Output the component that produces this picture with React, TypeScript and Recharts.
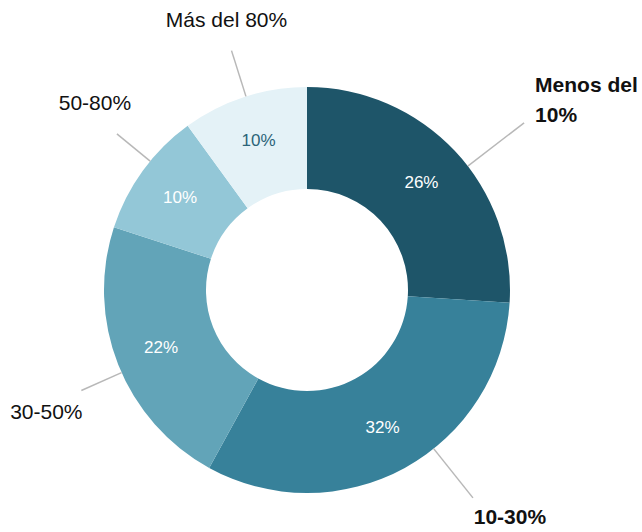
import React from "react";
import { PieChart, Pie, Cell } from "recharts";

// share of respondents per bracket, clockwise from 12 o'clock
const categories = ["Menos del 10%", "10-30%", "30-50%", "50-80%", "Más del 80%"];
const shares = [26, 32, 22, 10, 10];
const emphasized = [true, true, false, false, false];

const sliceColors = ["#1e5569", "#37819a", "#62a4b8", "#93c7d7", "#e4f2f7"];
const valueTextColors = ["#ffffff", "#ffffff", "#ffffff", "#ffffff", "#2b6479"];

// outside label layout: angle nudge (deg, clockwise), leader length, text offset from leader end
const labelLayout = [
    { nudge: 5.6, len: 71, dx: 11, dy: -31, anchor: "start", lines: ["Menos del", "10%"] },
    { nudge: -9.8, len: 63, dx: 37, dy: 26, anchor: "middle", lines: ["10-30%"] },
    { nudge: -2.4, len: 44, dx: -35, dy: 29, anchor: "middle", lines: ["30-50%"] },
    { nudge: 3.4, len: 43, dx: -22, dy: -24, anchor: "middle", lines: ["50-80%"] },
    { nudge: 0.5, len: 48, dx: -5, dy: -24, anchor: "middle", lines: ["Más del 80%"] },
];

const data = categories.map((name, i) => ({ name, value: shares[i] }));

const FONT = "'Liberation Sans', Arial, sans-serif";
const RAD = Math.PI / 180;

const renderLabel = (props: any) => {
    const { cx, cy, midAngle, innerRadius, outerRadius, index, value } = props;
    // recharts angle -> clockwise from top
    const clock = 90 - midAngle;
    const inR = (innerRadius + outerRadius) / 2 + 5;
    const ix = cx + inR * Math.sin(clock * RAD);
    const iy = cy - inR * Math.cos(clock * RAD);

    const lay = labelLayout[index];
    const a = (clock + lay.nudge) * RAD;
    const x1 = cx + outerRadius * Math.sin(a);
    const y1 = cy - outerRadius * Math.cos(a);
    const x2 = cx + (outerRadius + lay.len) * Math.sin(a);
    const y2 = cy - (outerRadius + lay.len) * Math.cos(a);

    return (
        <g>
            <text
                x={ix}
                y={iy}
                textAnchor="middle"
                dominantBaseline="central"
                fill={valueTextColors[index]}
                fontSize={17}
                fontFamily={FONT}
            >
                {value}%
            </text>
            <line x1={x1} y1={y1} x2={x2} y2={y2} stroke="#b8b8b8" strokeWidth={1.5} />
            <text
                x={x2 + lay.dx}
                y={y2 + lay.dy}
                textAnchor={lay.anchor}
                fill="#111111"
                fontSize={21}
                fontWeight={emphasized[index] ? "bold" : "normal"}
                fontFamily={FONT}
            >
                {lay.lines.map((t, k) => (
                    <tspan key={k} x={x2 + lay.dx} dy={k === 0 ? 0 : 30}>
                        {t}
                    </tspan>
                ))}
            </text>
        </g>
    );
};

export default function App() {
    return (
        <div
            style={{
                position: "absolute",
                left: 0,
                top: 0,
                width: 642,
                height: 532,
                background: "#ffffff",
            }}
        >
            <PieChart width={642} height={532} margin={{ top: 0, right: 0, bottom: 0, left: 0 }}>
                <Pie
                    data={data}
                    dataKey="value"
                    nameKey="name"
                    cx={307}
                    cy={290}
                    innerRadius={101}
                    outerRadius={203}
                    startAngle={90}
                    endAngle={-270}
                    stroke="none"
                    label={renderLabel}
                    labelLine={false}
                    isAnimationActive={false}
                >
                    {data.map((d, i) => (
                        <Cell key={d.name} fill={sliceColors[i]} />
                    ))}
                </Pie>
            </PieChart>
        </div>
    );
}
